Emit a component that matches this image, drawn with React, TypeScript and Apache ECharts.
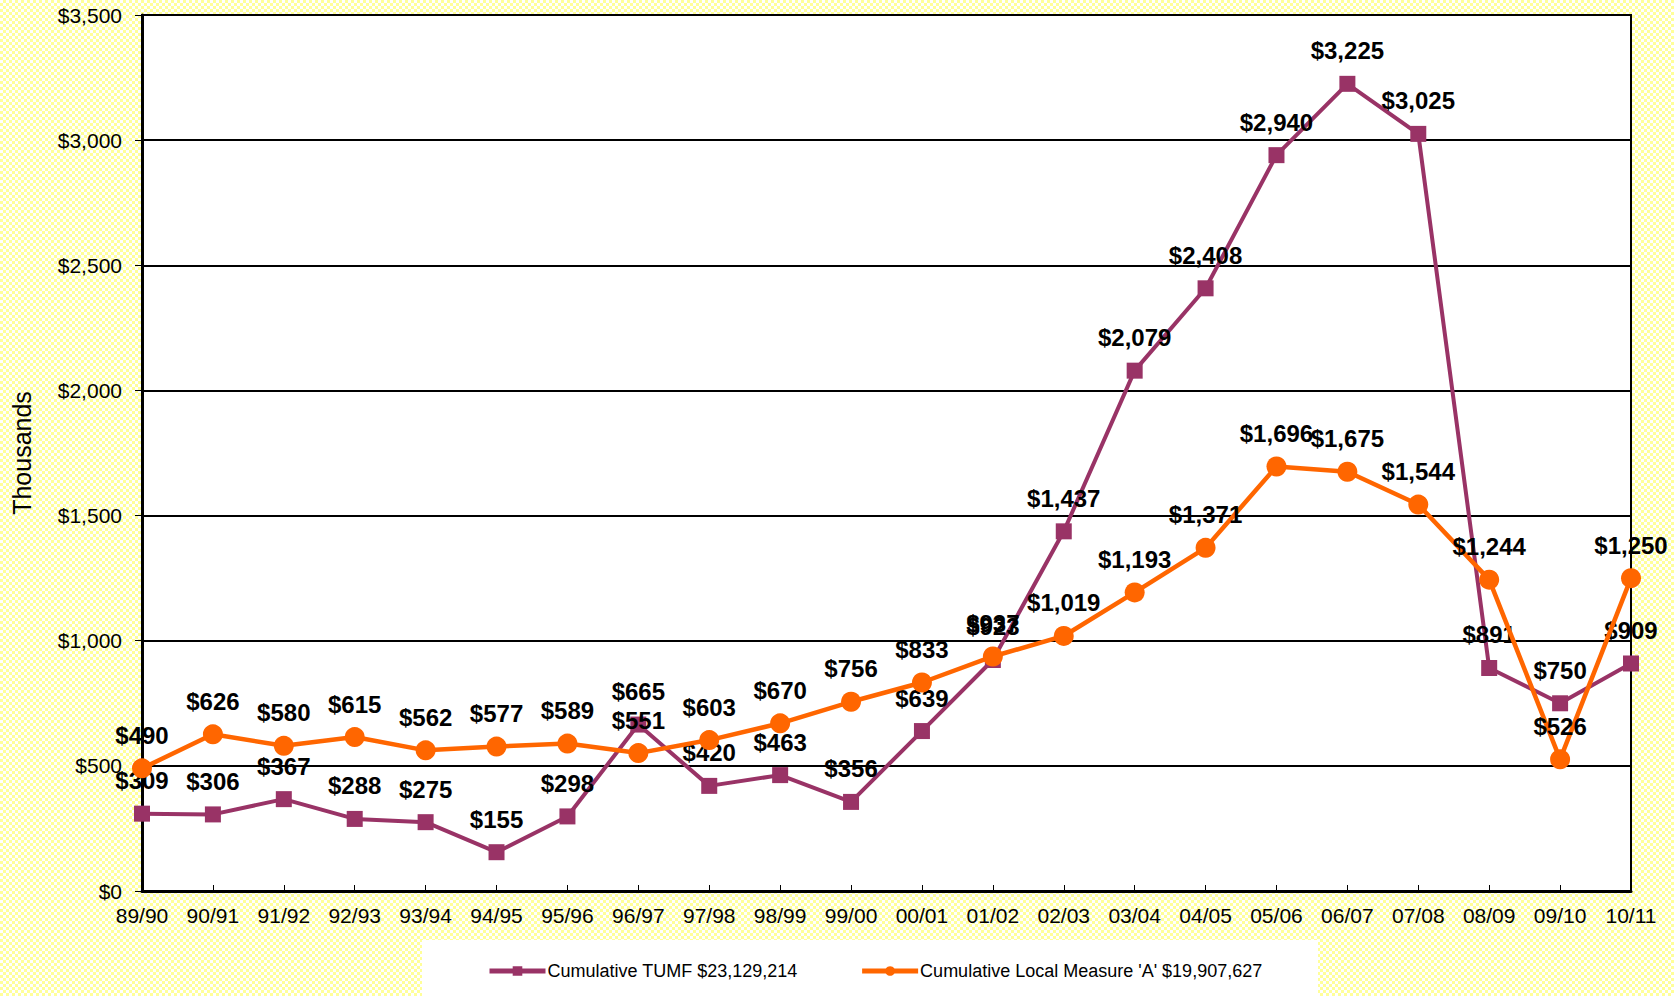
import React, { useEffect, useRef } from "react";
import * as echarts from "echarts";

const categories = [
  "89/90", "90/91", "91/92", "92/93", "93/94", "94/95", "95/96", "96/97", "97/98", "98/99", "99/00",
  "00/01", "01/02", "02/03", "03/04", "04/05", "05/06", "06/07", "07/08", "08/09", "09/10", "10/11",
];
const tumfValues = [309, 306, 367, 288, 275, 155, 298, 665, 420, 463, 356, 639, 923, 1437, 2079, 2408, 2940, 3225, 3025, 891, 750, 909];
const measureAValues = [490, 626, 580, 615, 562, 577, 589, 551, 603, 670, 756, 833, 937, 1019, 1193, 1371, 1696, 1675, 1544, 1244, 526, 1250];
const tumfName = "Cumulative TUMF $23,129,214";
const measureAName = "Cumulative Local Measure 'A' $19,907,627";
const yTitle = "Thousands";

const fmt = (v: number) => "$" + Math.round(v).toLocaleString("en-US");
const FONT = "'Liberation Sans', Arial, sans-serif";

export default function App() {
  const ref = useRef<HTMLDivElement>(null);
  useEffect(() => {
    if (!ref.current) return;
    const chart = echarts.init(ref.current, null, { renderer: "svg" });
    const labelStyle = {
      show: true,
      position: "top" as const,
      formatter: (p: any) => fmt(p.value),
      fontFamily: FONT,
      fontSize: 24,
      fontWeight: "bold" as const,
      color: "#000",
    };
    chart.setOption({
      animation: false,
      backgroundColor: "transparent",
      textStyle: { fontFamily: FONT },
      graphic: [
        {
          type: "rect",
          left: 422,
          top: 940,
          shape: { width: 896, height: 56 },
          style: { fill: "#ffffff" },
          z: -1,
        },
      ],
      grid: {
        left: 142,
        right: 43,
        top: 15,
        bottom: 105,
        show: true,
        backgroundColor: "#ffffff",
        borderColor: "#000",
        borderWidth: 2,
      },
      legend: {
        left: 482,
        top: 957,
        itemWidth: 56,
        itemHeight: 12,
        itemGap: 62,
        lineStyle: { width: 5 },
        textStyle: { fontFamily: FONT, fontSize: 18, color: "#000", padding: [0, 0, 0, -3] },
        data: [tumfName, measureAName],
      },
      xAxis: {
        type: "category",
        data: categories,
        boundaryGap: false,
        axisLine: { lineStyle: { color: "#000", width: 3 } },
        axisTick: { show: true, inside: true, length: 6, lineStyle: { color: "#000", width: 1 } },
        axisLabel: { fontFamily: FONT, fontSize: 21, color: "#000", margin: 14 },
        splitLine: { show: false },
      },
      yAxis: {
        type: "value",
        min: 0,
        max: 3500,
        interval: 500,
        name: yTitle,
        nameLocation: "middle",
        nameGap: 108,
        nameTextStyle: { fontFamily: FONT, fontSize: 25, color: "#000" },
        axisLine: { show: true, lineStyle: { color: "#000", width: 3 } },
        axisTick: { show: true, length: 7, lineStyle: { color: "#000", width: 1 } },
        axisLabel: { fontFamily: FONT, fontSize: 21, color: "#000", margin: 20, formatter: (v: number) => fmt(v) },
        splitLine: { show: true, lineStyle: { color: "#000", width: 2 } },
      },
      series: [
        {
          name: tumfName,
          type: "line",
          data: tumfValues,
          symbol: "rect",
          symbolSize: 16,
          itemStyle: { color: "#993366" },
          lineStyle: { color: "#993366", width: 4 },
          label: { ...labelStyle, distance: 13 },
          z: 3,
        },
        {
          name: measureAName,
          type: "line",
          data: measureAValues,
          symbol: "circle",
          symbolSize: 20,
          itemStyle: { color: "#FF6600" },
          lineStyle: { color: "#FF6600", width: 4.5 },
          label: { ...labelStyle, distance: 11 },
          z: 4,
        },
      ],
    });
    return () => chart.dispose();
  }, []);
  return (
    <div
      style={{
        position: "fixed",
        left: 0,
        top: 0,
        width: 1674,
        height: 996,
        backgroundColor: "#ffffff",
        backgroundImage: "repeating-conic-gradient(#ffff99 0% 25%, #ffffff 0% 50%)",
        backgroundSize: "6px 6px",
      }}
    >
      <div ref={ref} style={{ width: 1674, height: 996 }} />
    </div>
  );
}
